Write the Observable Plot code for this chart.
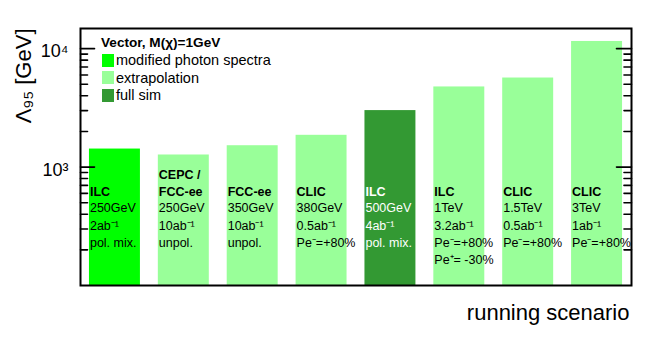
<!DOCTYPE html>
<html><head><meta charset="utf-8">
<script src="https://cdn.jsdelivr.net/npm/d3@7"></script>
<script src="https://cdn.jsdelivr.net/npm/@observablehq/plot@0.6"></script>
<style>
body{margin:0;background:#fff;font-family:"Liberation Sans",Arial,Helvetica,sans-serif;}
#wrap{position:relative;width:664px;height:348px;}
#legend{position:absolute;left:101px;top:34px;color:#000;}
#legend .title{font-weight:bold;font-size:13.6px;height:17.5px;line-height:17.5px;}
#legend .row{display:flex;align-items:center;height:17.5px;font-size:14.5px;}
#legend .sw{width:12.6px;height:12.6px;margin-left:0.7px;margin-right:1.7px;}
</style></head><body><div id="wrap"></div><script>
const scenarios = ["ILC 250","CEPC/FCC-ee 250","FCC-ee 350","CLIC 380","ILC 500","ILC 1000","CLIC 1500","CLIC 3000"];
const names = ["ILC","CEPC /\nFCC-ee","FCC-ee","CLIC","ILC","ILC","CLIC","CLIC"];
const details = ["250GeV\n2ab⁻¹\npol. mix.","250GeV\n10ab⁻¹\nunpol.","350GeV\n10ab⁻¹\nunpol.","380GeV\n0.5ab⁻¹\nPe⁻=+80%","500GeV\n4ab⁻¹\npol. mix.","1TeV\n3.2ab⁻¹\nPe⁻=+80%\nPe⁺= -30%","1.5TeV\n0.5ab⁻¹\nPe⁻=+80%","3TeV\n1ab⁻¹\nPe⁻=+80%"];
const lambda95 = [1420, 1265, 1515, 1855, 3000, 4750, 5650, 11500];
const method = ["modified photon spectra","extrapolation","extrapolation","extrapolation","full sim","extrapolation","extrapolation","extrapolation"];
const methods = ["modified photon spectra","extrapolation","full sim"];
const legendTitle = "Vector, M(χ)=1GeV";
const yTitle = "Λ₉₅ [GeV]";
const xTitle = "running scenario";
const yDomain = [100, 14800];
const majorTicks = [1000, 10000];
const majorLabels = ["10³","10⁴"];
const minorTicks = [200,300,400,500,600,700,800,900,2000,3000,4000,5000,6000,7000,8000,9000];
const labelY = 640;

const colors = ["#00ff00","#99ff99","#339933"];
const font = '"Liberation Sans",Arial,Helvetica,sans-serif';
const data = scenarios.map((s,i)=>({scenario:s,name:names[i],detail:details[i],value:lambda95[i],method:method[i]}));

const line = {draw(context, l){ context.moveTo(0,0); context.lineTo(0,-l); }};
function ticks(values, side, len){
  return Plot.vector(values,{y:d=>d, frameAnchor:side, rotate: side==="left"?90:-90, length:len, anchor:"start", shape:line, stroke:"black", strokeWidth:1.6});
}

function labels(filter, fill){
  return [
    Plot.text(data,{filter, x:"scenario", y:labelY, text:"name", textAnchor:"start", dx:-25, lineAnchor:"bottom", fontWeight:"bold", fontSize:12.5, lineHeight:1.39, fill, dy:6}),
    Plot.text(data,{filter, x:"scenario", y:labelY, text:"detail", textAnchor:"start", dx:-25, lineAnchor:"top", fontSize:12.5, lineHeight:1.39, fill, dy:10})
  ];
}

const plot = Plot.plot({
  width:664, height:348, marginLeft:80, marginRight:33, marginTop:28, marginBottom:63,
  style:{fontFamily:font, background:"white", color:"black"},
  x:{domain:scenarios, paddingInner:0.26, paddingOuter:0.13, round:false, axis:null},
  y:{type:"log", domain:yDomain, axis:null, label:null},
  length:{type:"identity"},
  color:{domain:methods, range:colors},
  marks:[
    Plot.barY(data,{x:"scenario", y1:yDomain[0], y2:"value", fill:"method"}),
    ...labels(d=>d.method!=="full sim","black"),
    ...labels(d=>d.method==="full sim","white"),
    ticks(majorTicks,"left",14),
    ticks(minorTicks,"left",7),
    ticks(majorTicks,"right",15),
    ticks(minorTicks,"right",7.5),
    Plot.axisY({anchor:"left", ticks:majorTicks, tickSize:0, tickPadding:12, tickFormat:(d)=>majorLabels[majorTicks.indexOf(d)], fontSize:18, dy:3, label:null}),
    Plot.frame({stroke:"black", strokeWidth:2}),
    Plot.text([yTitle],{frameAnchor:"top-left", rotate:-90, textAnchor:"end", lineAnchor:"middle", dx:-57, fontSize:22}),
    Plot.text([xTitle],{frameAnchor:"bottom-right", textAnchor:"end", lineAnchor:"middle", dx:-2, dy:27, fontSize:22})
  ]
});
const wrap = document.getElementById("wrap");
wrap.appendChild(plot);
const lg = document.createElement("div");
lg.id = "legend";
lg.innerHTML = `<div class="title">${legendTitle}</div>` + methods.map((m,i)=>`<div class="row"><span class="sw" style="background:${colors[i]}"></span><span>${m}</span></div>`).join("");
wrap.appendChild(lg);
</script></body></html>
